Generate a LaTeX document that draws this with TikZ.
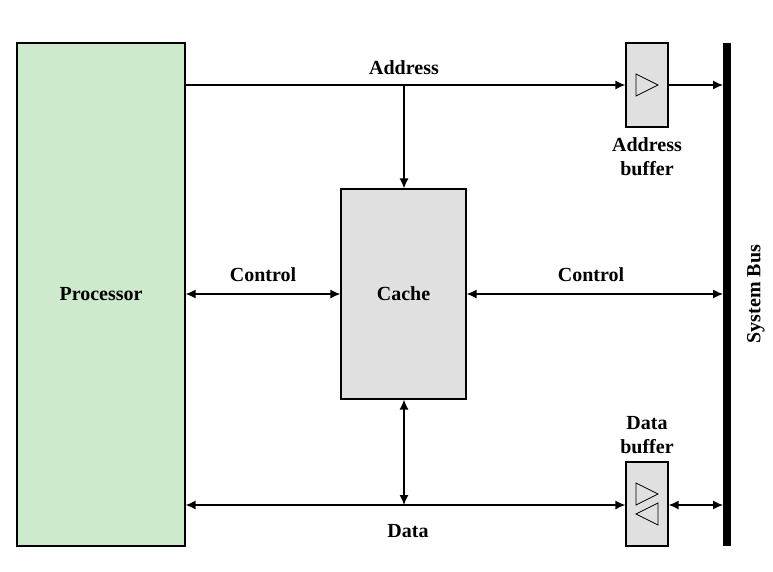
\documentclass[tikz,border=0pt]{standalone}
\usepackage{fontspec}
\setmainfont{Liberation Serif}
\usetikzlibrary{arrows.meta,positioning}
\definecolor{procgreen}{HTML}{CDEACC}
\definecolor{cachegray}{HTML}{E0E0E0}
\tikzset{
  blk/.style={draw, line width=1.2pt, inner sep=0pt},
  lbl/.style={font=\fontsize{20}{24}\selectfont\bfseries},
  conn/.style={line width=1.3pt, -{Latex[length=10pt,width=9pt]}},
  biconn/.style={line width=1.3pt, {Latex[length=10pt,width=9pt]}-{Latex[length=10pt,width=9pt]}},
  tri/.style={draw, line width=0.8pt}
}
\begin{document}
\begin{tikzpicture}[x=1pt,y=-1pt]
  \useasboundingbox (0,0) rectangle (773,571);
  % blocks
  \node[blk, fill=procgreen, minimum width=168pt, minimum height=503pt] (proc) at (101,294.5) {};
  \node[lbl] at (proc) {Processor};
  \node[blk, fill=cachegray, minimum width=125pt, minimum height=210pt] (cache) at (403.5,294) {};
  \node[lbl] at (cache) {Cache};
  \node[blk, fill=cachegray, minimum width=42pt, minimum height=84pt] (abuf) at (647,85) {};
  \node[blk, fill=cachegray, minimum width=42pt, minimum height=84pt] (dbuf) at (647,504) {};
  \node[lbl, align=center, below=6pt of abuf] (abuflbl) {Address\\buffer};
  \node[lbl, align=center, above=4pt of dbuf] (dbuflbl) {Data\\buffer};
  % triangles in buffers
  \draw[tri] (636,74) -- (658,85) -- (636,96) -- cycle;
  \draw[tri] (636,483) -- (658,494) -- (636,505) -- cycle;
  \draw[tri] (658,503) -- (636,514) -- (658,525) -- cycle;
  % system bus
  \draw[line width=8pt] (727,43) coordinate (bustop) -- (727,546) coordinate (busbot);
  \node[lbl, rotate=90] (buslbl) at (756,294) {System Bus};
  % address
  \coordinate (aL) at (proc.east |- 0,85);
  \draw[conn] (aL) -- (abuf.west |- aL);
  \draw[conn] (abuf.east |- aL) -- (723,85);
  \node[lbl] at (404,68) {Address};
  \draw[conn] (404,85) -- (cache.north -| 404,0);
  % control
  \draw[biconn] (proc.east |- cache) -- (cache.west);
  \node[lbl] at (263,275) {Control};
  \draw[biconn] (cache.east) -- (723,294);
  \node[lbl] at (591,275) {Control};
  % data
  \draw[biconn] (proc.east |- 0,505) -- (dbuf.west |- 0,505);
  \draw[biconn] (404,505) -- (cache.south -| 404,0);
  \draw[biconn] (dbuf.east |- 0,505) -- (723,505);
  \node[lbl] at (408,531) {Data};
\end{tikzpicture}
\end{document}
